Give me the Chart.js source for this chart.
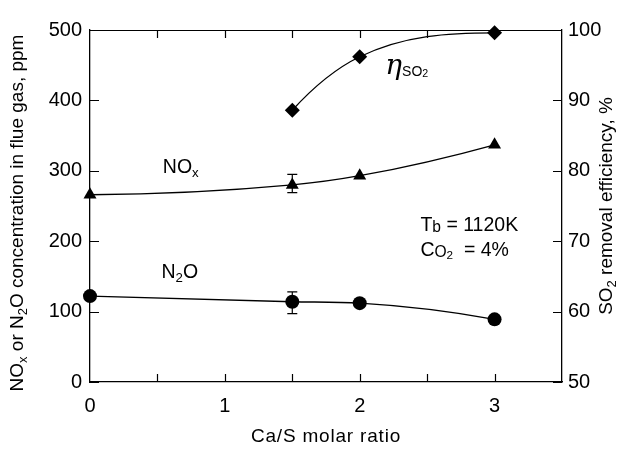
<!DOCTYPE html>
<html>
<head>
<meta charset="utf-8">
<script src="https://cdn.jsdelivr.net/npm/chart.js@4.4.1/dist/chart.umd.min.js"></script>
<style>
  html, body { margin: 0; padding: 0; background: #fff; }
  #wrap { width: 623px; height: 449px; }
</style>
</head>
<body>
<div id="wrap"><canvas id="grafico"></canvas></div>
<script>
// Ca/S molar ratio
const caS = [0, 1.5, 2, 3];
const caSso2 = [1.5, 2, 3];

// concentraciones en ppm
const n2o = [122, 114, 112, 89];
const nox = [266, 280, 293, 337];
// barras de error (solo en Ca/S = 1.5)
const n2oErr = [null, [97, 128], null, null];
const noxErr = [null, [269, 295], null, null];

// eficiencia de remocion de SO2, %
const so2Eff = [88.6, 96.2, 99.6];

const FONT = '"Liberation Sans", Arial, Helvetica, sans-serif';
const NEGRO = '#000';

function pts(xs, ys) {
  return xs.map((x, i) => ({ x: x, y: ys[i] }));
}

// texto con subindices: cada parte es [texto, escala, desplazamiento, estilo, familia]
function drawRich(ctx, parts, x, y, size, align, rot, spacing) {
  ctx.save();
  ctx.translate(x, y);
  if (rot) ctx.rotate(rot);
  ctx.textBaseline = 'middle';
  ctx.textAlign = 'left';
  if (spacing) ctx.letterSpacing = spacing + 'px';
  const fuente = p => (p[3] || '') + ' ' + (size * (p[1] || 1)) + 'px ' + (p[4] || FONT);
  const anchos = parts.map(p => { ctx.font = fuente(p); return ctx.measureText(p[0]).width; });
  const total = anchos.reduce((a, w) => a + w, 0);
  let cx = align === 'center' ? -total / 2 : 0;
  parts.forEach((p, i) => {
    ctx.font = fuente(p);
    ctx.fillStyle = NEGRO;
    ctx.fillText(p[0], cx, size * (p[2] || 0));
    cx += anchos[i];
  });
  ctx.restore();
}

const SUB = 0.68, BAJA = 0.28;

// etiquetas dentro del grafico, ubicadas en unidades de datos
const etiquetas = [
  { x: 0.54, y: 304, parts: [['NO'], ['x', SUB, BAJA]] },
  { x: 0.53, y: 155, parts: [['N'], ['2', SUB, BAJA], ['O']] },
  { x: 2.45, y: 222, parts: [['T'], ['b', 0.8, 0.1], [' = 1120K']] },
  { x: 2.45, y: 187, parts: [['C'], ['O', 0.8, 0.1], ['2', 0.6, 0.3], ['  = 4%']] }
];

// extremos de la curva con pendiente parabolica (en vez de la secante)
const extremosPlugin = {
  id: 'extremos',
  beforeDatasetDraw(chart, args) {
    const line = args.meta.dataset;
    line.updateControlPoints(chart.chartArea);
    const p = args.meta.data;
    const n = p.length;
    if (n < 3) return;
    const pendiente = q => (q.cp2y - q.cp1y) / ((q.cp2x - q.cp1x) || 1);
    // si cambia de signo respecto a la secante se deja horizontal
    const limitar = (m, s) => (m * s < 0 ? 0 : m);
    // inicio
    let s = (p[1].y - p[0].y) / (p[1].x - p[0].x);
    let m = limitar(2 * s - pendiente(p[1]), s);
    let dx = (p[1].x - p[0].x) / 3;
    p[0].cp2x = p[0].x + dx;
    p[0].cp2y = p[0].y + m * dx;
    // final
    s = (p[n - 1].y - p[n - 2].y) / (p[n - 1].x - p[n - 2].x);
    m = limitar(2 * s - pendiente(p[n - 2]), s);
    dx = (p[n - 1].x - p[n - 2].x) / 3;
    p[n - 1].cp1x = p[n - 1].x - dx;
    p[n - 1].cp1y = p[n - 1].y - m * dx;
  }
};

const marcasPlugin = {
  id: 'marcas',
  afterDraw(chart) {
    const ctx = chart.ctx;
    const a = chart.chartArea;
    const sx = chart.scales.x, sy = chart.scales.y, sy1 = chart.scales.y1;
    ctx.save();
    ctx.strokeStyle = NEGRO;
    ctx.lineWidth = 1.2;
    ctx.beginPath();
    // marco superior
    ctx.moveTo(a.left, a.top + 0.5);
    ctx.lineTo(a.right, a.top + 0.5);
    // marcas hacia adentro
    sx.ticks.forEach(t => {
      const px = Math.round(sx.getPixelForValue(t.value)) + 0.5;
      if (t.value <= sx.min || t.value >= sx.max) return;
      ctx.moveTo(px, a.bottom); ctx.lineTo(px, a.bottom - 8);
      ctx.moveTo(px, a.top); ctx.lineTo(px, a.top + 8);
    });
    sy.ticks.forEach(t => {
      const py = Math.round(sy.getPixelForValue(t.value)) + 0.5;
      ctx.moveTo(a.left, py); ctx.lineTo(a.left + 9, py);
    });
    sy1.ticks.forEach(t => {
      const py = Math.round(sy1.getPixelForValue(t.value)) + 0.5;
      ctx.moveTo(a.right, py); ctx.lineTo(a.right - 9, py);
    });
    ctx.stroke();

    // barras de error
    [n2oErr, noxErr].forEach(errs => {
      errs.forEach((e, i) => {
        if (!e) return;
        const px = sx.getPixelForValue(caS[i]);
        const y0 = sy.getPixelForValue(e[0]);
        const y1 = sy.getPixelForValue(e[1]);
        ctx.beginPath();
        ctx.moveTo(px, y0); ctx.lineTo(px, y1);
        ctx.moveTo(px - 5, y0); ctx.lineTo(px + 5, y0);
        ctx.moveTo(px - 5, y1); ctx.lineTo(px + 5, y1);
        ctx.stroke();
      });
    });
    ctx.restore();

    // textos dentro del area
    etiquetas.forEach(e => {
      drawRich(ctx, e.parts, sx.getPixelForValue(e.x), sy.getPixelForValue(e.y), 19.5, 'left');
    });
    drawRich(ctx, [['\u03B7', 1, 0, 'italic', '"DejaVu Serif", serif'], ['SO', 0.5, 0.2], ['2', 0.38, 0.27]],
      sx.getPixelForValue(2.19), sy1.getPixelForValue(94.8), 28, 'left');

    // titulos de ejes
    drawRich(ctx, [['Ca/S molar ratio']], (a.left + a.right) / 2, 437, 19, 'center', 0, 0.8);
    drawRich(ctx, [['NO'], ['x', SUB, BAJA], [' or N'], ['2', SUB, BAJA], ['O concentration in flue gas, ppm']],
      18, 213, 19, 'center', -Math.PI / 2);
    drawRich(ctx, [['SO'], ['2', SUB, BAJA], [' removal efficiency, %']],
      607, 206, 19, 'center', -Math.PI / 2);
  }
};

const serieBase = {
  borderColor: NEGRO,
  backgroundColor: NEGRO,
  borderWidth: 1.3,
  pointBorderWidth: 0,
  cubicInterpolationMode: 'monotone',
  clip: false
};

const tickFont = { family: FONT, size: 20 };

new Chart(document.getElementById('grafico'), {
  type: 'line',
  data: {
    datasets: [
      Object.assign({ label: 'N2O', data: pts(caS, n2o), yAxisID: 'y', pointStyle: 'circle', pointRadius: 7 }, serieBase),
      Object.assign({ label: 'NOx', data: pts(caS, nox), yAxisID: 'y', pointStyle: 'triangle', pointRadius: 7.5 }, serieBase),
      Object.assign({ label: 'SO2', data: pts(caSso2, so2Eff), yAxisID: 'y1', pointStyle: 'rectRot', pointRadius: 7.5 }, serieBase)
    ]
  },
  options: {
    responsive: true,
    maintainAspectRatio: false,
    animation: false,
    events: [],
    layout: { padding: { top: 30, left: 0, right: 0, bottom: 0 } },
    plugins: { legend: { display: false }, tooltip: { enabled: false } },
    scales: {
      x: {
        type: 'linear', position: 'bottom', min: 0, max: 3.5,
        grid: { display: false, drawTicks: false },
        border: { display: true, color: NEGRO, width: 1.3 },
        ticks: {
          stepSize: 0.5, padding: 12, color: NEGRO, maxRotation: 0, autoSkip: false,
          font: tickFont,
          callback: v => (Number.isInteger(v) && v < 3.5 ? String(v) : '')
        },
        afterFit: s => { s.height = 67; }
      },
      y: {
        position: 'left', min: 0, max: 500,
        grid: { display: false, drawTicks: false },
        border: { display: true, color: NEGRO, width: 1.3 },
        ticks: { stepSize: 100, padding: 8, color: NEGRO, font: tickFont },
        afterFit: s => { s.width = 90; }
      },
      y1: {
        position: 'right', min: 50, max: 100,
        grid: { display: false, drawTicks: false },
        border: { display: true, color: NEGRO, width: 1.3 },
        ticks: { stepSize: 10, padding: 6, color: NEGRO, font: tickFont },
        afterFit: s => { s.width = 61; }
      }
    }
  },
  plugins: [extremosPlugin, marcasPlugin]
});
</script>
</body>
</html>
